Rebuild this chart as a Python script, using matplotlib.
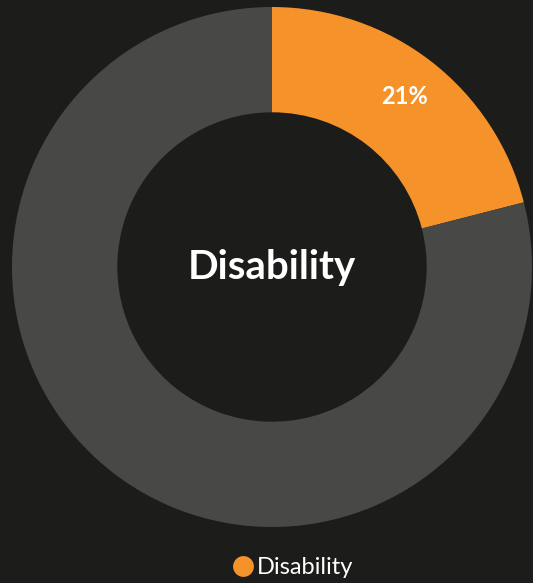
import matplotlib.pyplot as plt
from matplotlib.lines import Line2D

BG = "#1c1c1a"
labels = ["Disability", "Other"]
values = [21, 79]
colors = ["#f5922a", "#484846"]
center_text = "Disability"

plt.rcParams["font.family"] = ["Lato", "DejaVu Sans"]

fig = plt.figure(figsize=(5.33, 5.83), dpi=100)
fig.patch.set_facecolor(BG)
ax = fig.add_axes([12 / 533, (583 - 527) / 583, 520 / 533, 520 / 583])
ax.set_facecolor(BG)

# only the highlighted slice gets a percentage label
wedges, texts, autotexts = ax.pie(
    values, colors=colors, startangle=90, counterclock=False, radius=1,
    wedgeprops=dict(width=0.405, edgecolor="none"),
    autopct=lambda p: f"{p:.0f}%" if p < 50 else "",
    pctdistance=0.83,
    textprops=dict(color="white", fontsize=17, fontweight="bold"),
)
ax.text(0, 0, center_text, ha="center", va="center", color="white",
        fontsize=29, fontweight="bold")
ax.set_xlim(-1, 1)
ax.set_ylim(-1, 1)
ax.set_aspect("equal")
ax.axis("off")

handle = Line2D([], [], marker="o", color="none", markerfacecolor=colors[0],
                markeredgecolor="none", markersize=15)
fig.legend([handle], [labels[0]], loc="center", bbox_to_anchor=(0.551, 1 - 568 / 583),
           frameon=False, fontsize=17, labelcolor="white", handlelength=0.7,
           handletextpad=0.25)

fig.savefig("out.png", dpi=100, facecolor=BG)
